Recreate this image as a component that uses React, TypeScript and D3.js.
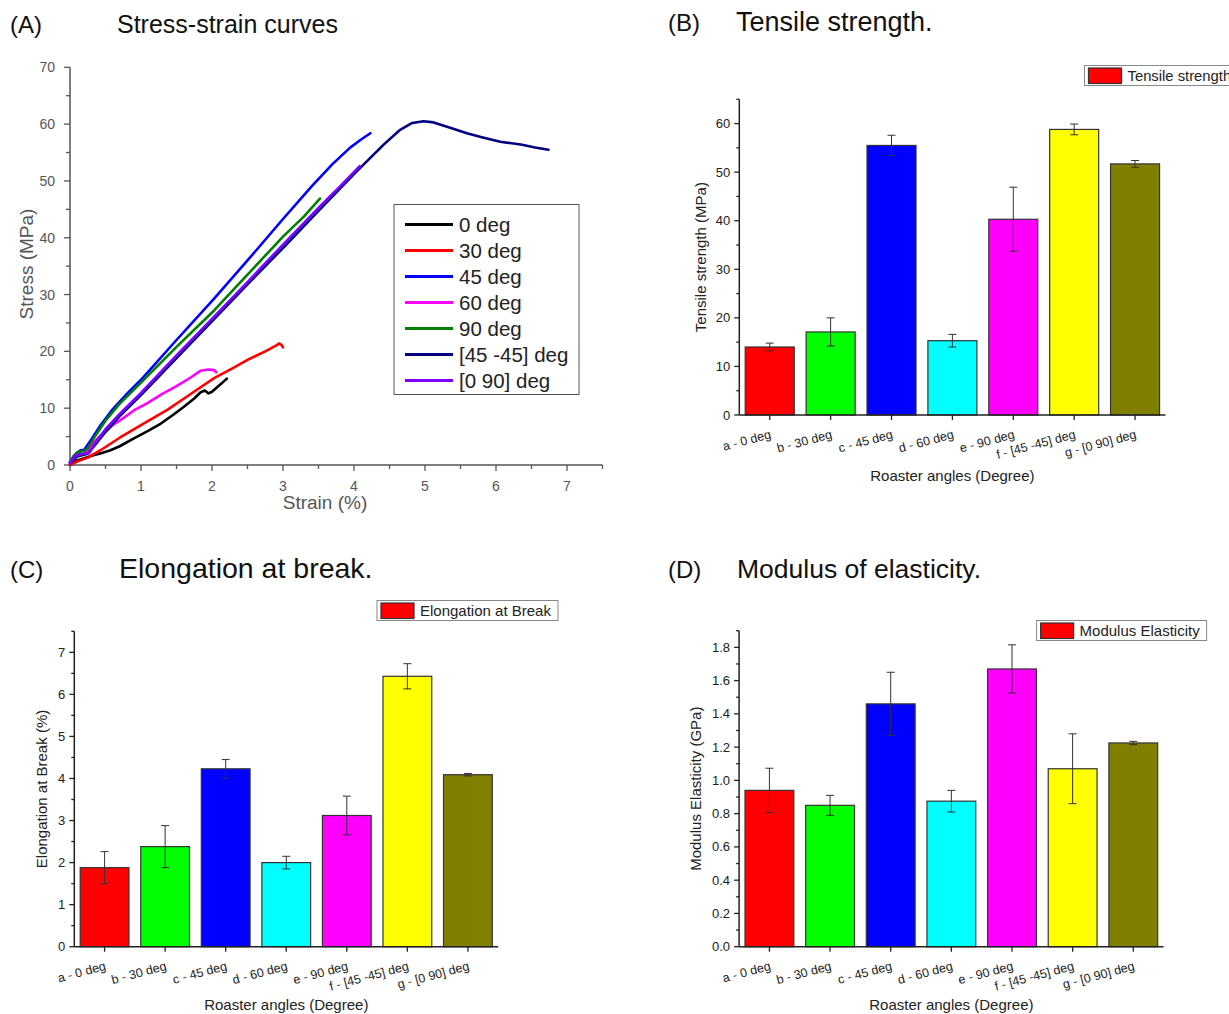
import React from "react";
import * as d3 from "d3";

// ---------- Panel A data (strain %, stress MPa) ----------
const curve0: [number, number][] = [[0,0],[0.1,0.8],[0.2,1.2],[0.33,1.7],[0.45,2.1],[0.57,2.6],[0.7,3.3],[0.9,4.7],[1.1,6.0],[1.28,7.3],[1.45,8.8],[1.6,10.2],[1.75,11.7],[1.84,12.8],[1.9,13.1],[1.95,12.6],[2.0,12.9],[2.1,14.0],[2.21,15.2]];
const curve30: [number, number][] = [[0,0],[0.1,0.6],[0.25,1.3],[0.43,2.6],[0.7,4.8],[1.0,7.0],[1.37,9.7],[1.7,12.5],[2.03,15.3],[2.3,17.1],[2.5,18.5],[2.75,20.0],[2.9,21.0],[2.95,21.4],[2.98,21.1],[3.0,20.7]];
const curve45: [number, number][] = [[0,0.5],[0.05,1.5],[0.1,2.2],[0.15,2.6],[0.2,2.7],[0.3,4.5],[0.43,7.0],[0.6,9.8],[0.8,12.5],[1.0,15.0],[1.5,22.0],[2.03,29.3],[2.5,36.0],[3.0,43.3],[3.4,49.0],[3.7,53.0],[3.95,55.9],[4.1,57.3],[4.23,58.4]];
const curve60: [number, number][] = [[0,0.5],[0.05,1.3],[0.1,1.8],[0.2,1.9],[0.3,3.5],[0.43,5.2],[0.6,7.0],[0.71,7.9],[0.9,9.6],[1.09,10.9],[1.3,12.5],[1.5,13.9],[1.7,15.4],[1.84,16.6],[1.95,16.8],[2.03,16.7],[2.06,16.3]];
const curve90: [number, number][] = [[0,0.5],[0.05,1.5],[0.1,2.2],[0.2,2.5],[0.25,3.0],[0.35,5.0],[0.5,7.8],[0.7,10.8],[1.0,14.5],[1.5,20.8],[2.03,27.2],[2.5,33.5],[3.0,40.2],[3.3,43.8],[3.52,46.9]];
const curve4545: [number, number][] = [[0,0.3],[0.1,1.5],[0.25,2.0],[0.35,3.5],[0.5,5.8],[0.7,8.6],[1.0,12.3],[1.5,18.8],[2.03,25.7],[2.5,31.8],[3.0,38.2],[3.52,45.0],[4.0,51.2],[4.41,56.3],[4.65,59.0],[4.82,60.2],[4.98,60.5],[5.12,60.3],[5.3,59.6],[5.59,58.4],[5.8,57.7],[6.06,56.9],[6.35,56.4],[6.55,55.9],[6.74,55.5]];
const curve090: [number, number][] = [[0,0.3],[0.05,1.3],[0.1,1.8],[0.2,2.0],[0.27,2.1],[0.35,3.8],[0.5,6.3],[0.7,9.0],[1.0,12.7],[1.5,19.3],[2.03,26.1],[2.5,32.2],[3.0,38.8],[3.52,45.5],[3.8,49.0],[4.08,52.6]];

const curveNames = ["0 deg", "30 deg", "45 deg", "60 deg", "90 deg", "[45 -45] deg", "[0 90] deg"];
const curveColors = ["#000000", "#ff0000", "#0000ff", "#ff00ff", "#008000", "#000080", "#8000ff"];
const curveData = [curve0, curve30, curve45, curve60, curve90, curve4545, curve090];
const drawOrder = [0, 1, 2, 3, 4, 5, 6];

const strainTicks = [0, 1, 2, 3, 4, 5, 6, 7];
const stressTicks = [0, 10, 20, 30, 40, 50, 60, 70];

// ---------- Bar panels ----------
const angles = ["a - 0 deg", "b - 30 deg", "c - 45 deg", "d - 60 deg", "e - 90 deg", "f - [45 -45] deg", "g - [0 90] deg"];
const barColors = ["#ff0000", "#00ff00", "#0000ff", "#00ffff", "#ff00ff", "#ffff00", "#808000"];

const tensileMean = [14.0, 17.1, 55.5, 15.3, 40.3, 58.8, 51.7];
const tensileErr = [0.8, 2.9, 2.1, 1.3, 6.6, 1.1, 0.7];
const tensileTicks = [0, 10, 20, 30, 40, 50, 60];

const elongMean = [1.88, 2.38, 4.23, 2.0, 3.12, 6.43, 4.09];
const elongErr = [0.38, 0.5, 0.22, 0.15, 0.46, 0.3, 0.03];
const elongTicks = [0, 1, 2, 3, 4, 5, 6, 7];

const modMean = [0.94, 0.85, 1.46, 0.875, 1.67, 1.07, 1.225];
const modErr = [0.133, 0.06, 0.19, 0.065, 0.145, 0.21, 0.01];
const modTicks = [0, 0.2, 0.4, 0.6, 0.8, 1.0, 1.2, 1.4, 1.6, 1.8];

const FONT = "'Liberation Sans', Arial, sans-serif";

function StressStrain() {
  const x = d3.scaleLinear().domain([0, 7.5]).range([70, 602.5]);
  const y = d3.scaleLinear().domain([0, 70]).range([465, 67.3]);
  const line = d3.line<[number, number]>().x(d => x(d[0])).y(d => y(d[1]));
  const axisColor = "#555";
  const minorX = d3.range(0.5, 7.6, 1);
  const minorY = d3.range(5, 70, 10);
  return (
    <g fontFamily={FONT}>
      <line x1={x(0)} x2={x(7.5)} y1={y(0)} y2={y(0)} stroke={axisColor} strokeWidth={1.5} />
      <line x1={x(0)} x2={x(0)} y1={y(0)} y2={y(70)} stroke={axisColor} strokeWidth={1.5} />
      {strainTicks.map(t => (
        <g key={"xt" + t}>
          <line x1={x(t)} x2={x(t)} y1={y(0)} y2={y(0) + 6} stroke={axisColor} strokeWidth={1.3} />
          <text x={x(t)} y={491} textAnchor="middle" fontSize={14} fill="#555">{t}</text>
        </g>
      ))}
      {minorX.map(t => (
        <line key={"xm" + t} x1={x(t)} x2={x(t)} y1={y(0)} y2={y(0) + 4} stroke={axisColor} strokeWidth={1.3} />
      ))}
      {stressTicks.map(t => (
        <g key={"yt" + t}>
          <line x1={x(0) - 6} x2={x(0)} y1={y(t)} y2={y(t)} stroke={axisColor} strokeWidth={1.3} />
          <text x={55} y={y(t) + 5} textAnchor="end" fontSize={14} fill="#555">{t}</text>
        </g>
      ))}
      {minorY.map(t => (
        <line key={"ym" + t} x1={x(0) - 4} x2={x(0)} y1={y(t)} y2={y(t)} stroke={axisColor} strokeWidth={1.3} />
      ))}
      <text x={325} y={509} textAnchor="middle" fontSize={19} fill="#555">Strain (%)</text>
      <text transform="translate(33,264) rotate(-90)" textAnchor="middle" fontSize={19} fill="#555">Stress (MPa)</text>
      {drawOrder.map(i => (
        <path key={"c" + i} d={line(curveData[i]) || ""} fill="none" stroke={curveColors[i]} strokeWidth={2.6} strokeLinejoin="round" strokeLinecap="round" />
      ))}
      <rect x={394} y={204.5} width={185} height={190} fill="#fff" stroke="#555" strokeWidth={1} />
      {curveNames.map((n, i) => (
        <g key={"lg" + i}>
          <line x1={405} x2={453} y1={224.5 + i * 26} y2={224.5 + i * 26} stroke={curveColors[i]} strokeWidth={3} />
          <text x={459} y={231.5 + i * 26} fontSize={20.5} fill="#222">{n}</text>
        </g>
      ))}
    </g>
  );
}

interface BarProps {
  means: number[];
  errs: number[];
  ticks: number[];
  maxV: number;
  minorStep: number;
  fmt: (v: number) => string;
  x0: number;
  x1: number;
  yBottom: number;
  yTop: number;
  yLabel: string;
  yLabelX: number;
  legendText: string;
  legendX: number;
  legendY: number;
  legendW: number;
  legendFont: number;
}

function BarPanel(p: BarProps) {
  const x = d3.scaleBand<string>().domain(angles).range([p.x0, p.x1]).paddingInner(0.195).paddingOuter(0.0975);
  const y = d3.scaleLinear().domain([0, p.maxV]).range([p.yBottom, p.yTop]);
  const minor = d3.range(p.minorStep, p.maxV + 1e-9, p.minorStep * 2);
  const bw = x.bandwidth();
  const midY = (p.yBottom + p.yTop) / 2;
  return (
    <g fontFamily={FONT}>
      {angles.map((a, i) => {
        const cx = (x(a) as number) + bw / 2;
        return (
          <g key={a}>
            <rect x={x(a)} y={y(p.means[i])} width={bw} height={y(0) - y(p.means[i])} fill={barColors[i]} stroke="#333" strokeWidth={1.2} />
            <line x1={cx} x2={cx} y1={y(p.means[i] - p.errs[i])} y2={y(p.means[i] + p.errs[i])} stroke="#333" strokeWidth={1} />
            <line x1={cx - 4} x2={cx + 4} y1={y(p.means[i] - p.errs[i])} y2={y(p.means[i] - p.errs[i])} stroke="#333" strokeWidth={1} />
            <line x1={cx - 4} x2={cx + 4} y1={y(p.means[i] + p.errs[i])} y2={y(p.means[i] + p.errs[i])} stroke="#333" strokeWidth={1} />
            <line x1={cx} x2={cx} y1={p.yBottom} y2={p.yBottom + 5} stroke="#222" strokeWidth={1.3} />
            <text transform={`translate(${cx + 2},${p.yBottom + 23}) rotate(-15)`} textAnchor="end" fontSize={12.5} fill="#222">{a}</text>
          </g>
        );
      })}
      <line x1={p.x0} x2={p.x1} y1={p.yBottom} y2={p.yBottom} stroke="#222" strokeWidth={1.5} />
      <line x1={p.x0} x2={p.x0} y1={p.yBottom} y2={p.yTop} stroke="#222" strokeWidth={1.5} />
      {p.ticks.map(t => (
        <g key={"t" + t}>
          <line x1={p.x0 - 5} x2={p.x0} y1={y(t)} y2={y(t)} stroke="#222" strokeWidth={1.3} />
          <text x={p.x0 - 9} y={y(t) + 4.5} textAnchor="end" fontSize={13} fill="#222">{p.fmt(t)}</text>
        </g>
      ))}
      {minor.map(t => (
        <line key={"m" + t} x1={p.x0 - 3} x2={p.x0} y1={y(t)} y2={y(t)} stroke="#222" strokeWidth={1.3} />
      ))}
      <text x={(p.x0 + p.x1) / 2} y={Math.min(p.yBottom + 66, 1010)} textAnchor="middle" fontSize={15} fill="#222">Roaster angles (Degree)</text>
      <text transform={`translate(${p.yLabelX},${midY}) rotate(-90)`} textAnchor="middle" fontSize={15} fill="#222">{p.yLabel}</text>
      <rect x={p.legendX} y={p.legendY} width={p.legendW} height={20} fill="#fff" stroke="#888" strokeWidth={1} />
      <rect x={p.legendX + 4} y={p.legendY + 2.5} width={33} height={15.5} fill="#ff0000" stroke="#333" strokeWidth={1.2} />
      <text x={p.legendX + 43} y={p.legendY + 15.5} fontSize={p.legendFont} fill="#222">{p.legendText}</text>
    </g>
  );
}

export default function App() {
  return (
    <svg width={1229} height={1014} style={{ position: "absolute", left: 0, top: 0, background: "#fff" }}>
      <rect x={0} y={0} width={1229} height={1014} fill="#fff" />
      <g fontFamily={FONT} fill="#111">
        <text x={10} y={33} fontSize={24}>(A)</text>
        <text x={117} y={33} fontSize={25}>Stress-strain curves</text>
        <text x={668} y={31} fontSize={24}>(B)</text>
        <text x={736} y={31} fontSize={27}>Tensile strength.</text>
        <text x={10} y={578} fontSize={24}>(C)</text>
        <text x={119} y={578} fontSize={28.5}>Elongation at break.</text>
        <text x={668} y={578} fontSize={24}>(D)</text>
        <text x={737} y={578} fontSize={26.5}>Modulus of elasticity.</text>
      </g>
      <StressStrain />
      <BarPanel means={tensileMean} errs={tensileErr} ticks={tensileTicks} maxV={65} minorStep={5}
        fmt={v => String(v)} x0={739.3} x1={1165.5} yBottom={415} yTop={99.3}
        yLabel="Tensile strength (MPa)" yLabelX={706} legendText="Tensile strength" legendX={1084.5} legendY={65.5} legendW={200} legendFont={14.8} />
      <BarPanel means={elongMean} errs={elongErr} ticks={elongTicks} maxV={7.5} minorStep={0.5}
        fmt={v => String(v)} x0={74.3} x1={498.2} yBottom={946.7} yTop={631.3}
        yLabel="Elongation at Break (%)" yLabelX={47} legendText="Elongation at Break" legendX={377} legendY={600.5} legendW={181} legendFont={15} />
      <BarPanel means={modMean} errs={modErr} ticks={modTicks} maxV={1.9} minorStep={0.1}
        fmt={v => v.toFixed(1)} x0={739.1} x1={1163.6} yBottom={946.7} yTop={630.7}
        yLabel="Modulus Elasticity (GPa)" yLabelX={701} legendText="Modulus Elasticity" legendX={1036.6} legendY={620.5} legendW={170} legendFont={15} />
    </svg>
  );
}
